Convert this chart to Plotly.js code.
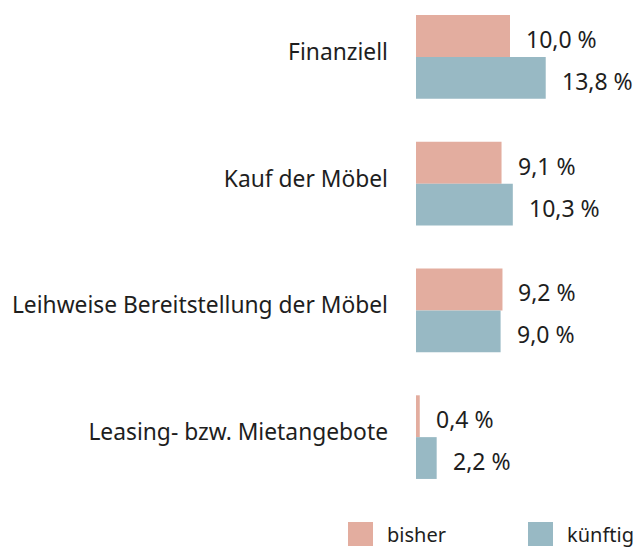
<!DOCTYPE html>
<html><head><meta charset="utf-8">
<script src="https://cdn.plot.ly/plotly-3.0.1.min.js"></script>
<style>html,body{margin:0;padding:0;background:#fff}</style>
</head><body>
<div id="chart" style="width:638px;height:548px"></div>
<script>
const categories = ["Finanziell", "Kauf der Möbel", "Leihweise Bereitstellung der Möbel", "Leasing- bzw. Mietangebote"];
const seriesNames = ["bisher", "künftig"];
const bisher = [10.0, 9.1, 9.2, 0.4];
const kuenftig = [13.8, 10.3, 9.0, 2.2];
const colors = ["#E3AD9F", "#98B9C4"];

const fontFam = "Noto Sans, sans-serif";
const textColor = "#1e1e1e";
const W = 638, H = 548, mL = 416, mR = 0, mT = 0, mB = 48;
const pw = W - mL - mR, ph = H - mT - mB;

function fmt(v){ return v.toFixed(1).replace('.', ',') + ' %'; }

const traces = [bisher, kuenftig].map((vals, i) => ({
  type: 'bar', orientation: 'h', name: seriesNames[i],
  x: vals, y: categories,
  marker: {color: colors[i]},
  hoverinfo: 'none', showlegend: false
}));

const annotations = [];
[bisher, kuenftig].forEach((vals, i) => {
  vals.forEach((v, j) => annotations.push({
    x: v, y: categories[j], xref: 'x', yref: 'y',
    text: fmt(v), showarrow: false, xanchor: 'left', yanchor: 'middle',
    xshift: 14, yshift: i === 0 ? 18 : -24,
    font: {family: fontFam, size: 23, color: textColor}
  }));
});

// legend drawn as shapes + text
const shapes = [];
const legendX = [348, 528];
const px2x = p => (p - mL) / pw;
const py2y = p => (mT + ph - p) / ph;
seriesNames.forEach((n, i) => {
  shapes.push({type: 'rect', xref: 'paper', yref: 'paper',
    x0: px2x(legendX[i]), x1: px2x(legendX[i] + 25),
    y0: py2y(546), y1: py2y(522), fillcolor: colors[i], line: {width: 0}});
  annotations.push({xref: 'paper', yref: 'paper', x: px2x(legendX[i] + 37), y: py2y(534),
    xanchor: 'left', yanchor: 'middle', text: n, showarrow: false,
    font: {family: fontFam, size: 20, color: textColor}});
});

const layout = {
  width: W, height: H,
  margin: {l: mL, r: mR, t: mT, b: mB, pad: 0},
  paper_bgcolor: '#fff', plot_bgcolor: '#fff',
  barmode: 'group', bargap: 0.34, bargroupgap: 0,
  showlegend: false,
  xaxis: {range: [0, pw / 9.4], visible: false, showgrid: false, zeroline: false, fixedrange: true},
  yaxis: {type: 'category', range: [3 + 63 / 127, -57 / 127], showgrid: false, zeroline: false,
    showline: false, ticks: '', ticklabelstandoff: 27, ticklabelshift: 5,
    tickfont: {family: fontFam, size: 22.8, color: textColor}},
  annotations: annotations, shapes: shapes
};

Plotly.newPlot('chart', traces, layout, {displayModeBar: false, staticPlot: true});
</script>
</body></html>
